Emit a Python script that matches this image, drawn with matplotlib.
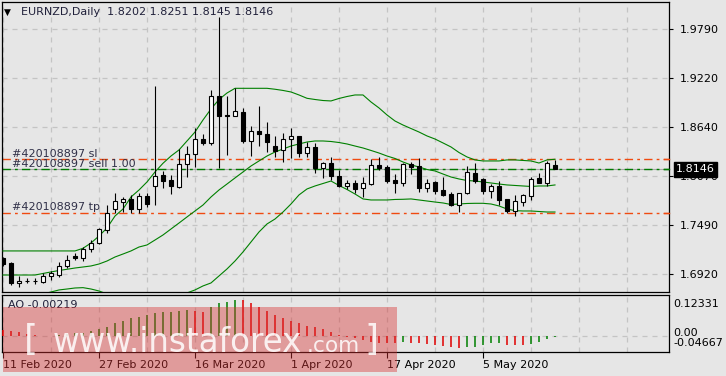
import matplotlib
matplotlib.use("Agg")
import matplotlib.pyplot as plt
import numpy as np
from matplotlib.patches import Rectangle
from matplotlib.transforms import blended_transform_factory, offset_copy

# EURNZD daily candles, 11 Feb 2020 .. 18 May 2020
opens = [1.7102, 1.7045, 1.6818, 1.6842, 1.6838, 1.6823, 1.6897, 1.6908, 1.7017, 1.7127,
         1.7111, 1.7209, 1.7287, 1.7436, 1.7678, 1.7767, 1.7795, 1.7678, 1.7834, 1.7954,
         1.8080, 1.8021, 1.7943, 1.8205, 1.8322, 1.8502, 1.8451, 1.9005, 1.8779, 1.8774,
         1.8821, 1.8482, 1.8595, 1.8560, 1.8420, 1.8373, 1.8498, 1.8537, 1.8341, 1.8404,
         1.8158, 1.8217, 1.8068, 1.7954, 1.7983, 1.7924, 1.7971, 1.8197, 1.8170, 1.8021,
         1.7983, 1.8209, 1.8185, 1.7931, 1.7994, 1.7904, 1.7857, 1.7725, 1.7865, 1.8100,
         1.8029, 1.7896, 1.7951, 1.7795, 1.7658, 1.7767, 1.7837, 1.8041, 1.7990, 1.8202]
highs = [1.7119, 1.7061, 1.6897, 1.6870, 1.6870, 1.6928, 1.6959, 1.7064, 1.7143, 1.7170,
         1.7240, 1.7318, 1.7455, 1.7728, 1.7865, 1.7826, 1.7846, 1.7865, 1.7865, 1.9122,
         1.8130, 1.8080, 1.8381, 1.8420, 1.8627, 1.8560, 1.9075, 1.9934, 1.9005, 1.9095,
         1.8861, 1.8654, 1.8888, 1.8704, 1.8537, 1.8568, 1.8627, 1.8540, 1.8470, 1.8458,
         1.8236, 1.8294, 1.8138, 1.8021, 1.8021, 1.8053, 1.8264, 1.8287, 1.8197, 1.8092,
         1.8224, 1.8236, 1.8275, 1.8029, 1.8013, 1.8053, 1.7884, 1.7872, 1.8185, 1.8217,
         1.8041, 1.7974, 1.8010, 1.7797, 1.7846, 1.7857, 1.8060, 1.8107, 1.8247, 1.8251]
lows = [1.7014, 1.6791, 1.6771, 1.6811, 1.6803, 1.6811, 1.6850, 1.6888, 1.6987, 1.7084,
        1.7072, 1.7181, 1.7272, 1.7397, 1.7638, 1.7650, 1.7638, 1.7631, 1.7708, 1.7728,
        1.7931, 1.7854, 1.7931, 1.8060, 1.8177, 1.8431, 1.8431, 1.8165, 1.8314, 1.8771,
        1.8451, 1.8306, 1.8420, 1.8353, 1.8294, 1.8236, 1.8275, 1.8287, 1.8287, 1.8100,
        1.8048, 1.8021, 1.7943, 1.7912, 1.7865, 1.7826, 1.7963, 1.8138, 1.7983, 1.7865,
        1.7951, 1.8092, 1.7884, 1.7884, 1.7857, 1.7834, 1.7717, 1.7650, 1.7857, 1.7983,
        1.7857, 1.7814, 1.7728, 1.7638, 1.7600, 1.7717, 1.7787, 1.7983, 1.7951, 1.8145]
closes = [1.7037, 1.6811, 1.6842, 1.6840, 1.6840, 1.6897, 1.6928, 1.7017, 1.7084, 1.7111,
          1.7213, 1.7287, 1.7444, 1.7631, 1.7775, 1.7795, 1.7678, 1.7834, 1.7737, 1.8072,
          1.8013, 1.7951, 1.8205, 1.8322, 1.8498, 1.8451, 1.9005, 1.8774, 1.8776, 1.8829,
          1.8482, 1.8595, 1.8557, 1.8463, 1.8364, 1.8498, 1.8537, 1.8341, 1.8404, 1.8158,
          1.8217, 1.8068, 1.7951, 1.7983, 1.7912, 1.7983, 1.8193, 1.8165, 1.8013, 1.7983,
          1.8205, 1.8177, 1.7931, 1.7983, 1.7896, 1.7846, 1.7725, 1.7865, 1.8111, 1.8010,
          1.7896, 1.7951, 1.7787, 1.7662, 1.7775, 1.7846, 1.8029, 1.7990, 1.8217, 1.8146]

# envelope / bands drawn on the chart
band_upper = [1.7190] * 10 + [
    1.7221, 1.7283, 1.7365, 1.7459, 1.7599, 1.7681, 1.7822, 1.7904, 1.7998, 1.8115,
    1.8217, 1.8302, 1.8373, 1.8478, 1.8583, 1.8724, 1.8853, 1.8964, 1.9040, 1.9095,
    1.9095, 1.9095, 1.9095, 1.9095, 1.9084, 1.9070, 1.9052, 1.9017, 1.8978, 1.8964,
    1.8952, 1.8947, 1.8976, 1.8999, 1.9017, 1.9017, 1.8935, 1.8865, 1.8783, 1.8712,
    1.8665, 1.8624, 1.8583, 1.8537, 1.8501, 1.8455, 1.8408, 1.8343, 1.8291, 1.8256,
    1.8244, 1.8244, 1.8244, 1.8256, 1.8256, 1.8250, 1.8244, 1.8220, 1.8256, 1.8264]
band_middle = [1.6908, 1.6908, 1.6908, 1.6908, 1.6908, 1.6926, 1.6944, 1.6961, 1.6975, 1.6990,
               1.7002, 1.7014, 1.7037, 1.7072, 1.7119, 1.7154, 1.7190, 1.7236, 1.7260, 1.7318,
               1.7377, 1.7447, 1.7517, 1.7588, 1.7658, 1.7728, 1.7822, 1.7904, 1.7974, 1.8045,
               1.8115, 1.8185, 1.8244, 1.8302, 1.8349, 1.8384, 1.8419, 1.8443, 1.8466, 1.8478,
               1.8478, 1.8472, 1.8460, 1.8443, 1.8419, 1.8396, 1.8367, 1.8337, 1.8302, 1.8273,
               1.8232, 1.8197, 1.8174, 1.8144, 1.8127, 1.8091, 1.8056, 1.8033, 1.8015, 1.8009,
               1.7998, 1.7986, 1.7974, 1.7963, 1.7957, 1.7951, 1.7945, 1.7951, 1.7951, 1.7963]
band_lower = [1.6627, 1.6627, 1.6627, 1.6639, 1.6662, 1.6686, 1.6709, 1.6733, 1.6744, 1.6756,
              1.6760, 1.6744, 1.6721, 1.6686, 1.6639, 1.6627, 1.6557, 1.6569, 1.6522, 1.6522,
              1.6533, 1.6592, 1.6662, 1.6698, 1.6733, 1.6780, 1.6815, 1.6897, 1.6979, 1.7072,
              1.7178, 1.7295, 1.7412, 1.7506, 1.7564, 1.7646, 1.7740, 1.7846, 1.7916, 1.7951,
              1.7980, 1.8009, 1.7957, 1.7910, 1.7857, 1.7799, 1.7787, 1.7787, 1.7787, 1.7793,
              1.7795, 1.7799, 1.7787, 1.7775, 1.7763, 1.7752, 1.7734, 1.7740, 1.7746, 1.7748,
              1.7748, 1.7740, 1.7717, 1.7681, 1.7662, 1.7658, 1.7658, 1.7652, 1.7646, 1.7646]

# Awesome Oscillator
ao = [0.019, 0.017, 0.012, 0.007, 0.003, 0.001, 0.002, 0.004, 0.006, 0.009,
      0.011, 0.017, 0.022, 0.029, 0.039, 0.046, 0.054, 0.059, 0.064, 0.069,
      0.072, 0.074, 0.077, 0.079, 0.077, 0.074, 0.089, 0.1005, 0.1035, 0.1085,
      0.108, 0.0987, 0.0868, 0.0766, 0.0638, 0.054, 0.047, 0.039, 0.031, 0.027,
      0.021, 0.013, 0.004, -0.001, -0.005, -0.010, -0.016, -0.019, -0.0195, -0.020,
      -0.018, -0.019, -0.021, -0.023, -0.026, -0.029, -0.031, -0.0355, -0.0325, -0.031,
      -0.026, -0.021, -0.019, -0.0256, -0.026, -0.0265, -0.023, -0.016, -0.008, -0.00219]

date_pos = [0, 12, 24, 36, 48, 60]
date_labels = ["11 Feb 2020", "27 Feb 2020", "16 Mar 2020", "1 Apr 2020", "17 Apr 2020", "5 May 2020"]
price_ticks = [1.9790, 1.9220, 1.8640, 1.8070, 1.7490, 1.6920]
ao_max, ao_min = 0.12331, -0.04667

order_sl = 1.8264
order_open = 1.8146
order_tp = 1.7638
order_id = "#420108897"

bg = "#e6e6e6"
grid_c = "#c4c4c4"
txt_c = "#20203a"
plt.rcParams["font.family"] = ["DejaVu Sans"]
plt.rcParams["font.size"] = 8

W, H = 726, 376
fig = plt.figure(figsize=(W / 100, H / 100), dpi=100, facecolor=bg)
ax = fig.add_axes([2 / W, 1 - 292 / H, 667 / W, 290 / H], facecolor=bg)
ax2 = fig.add_axes([2 / W, 1 - 352 / H, 667 / W, 57 / H], facecolor=bg)

x = np.arange(len(closes))
o = np.array(opens)
c = np.array(closes)
xlim = (-0.125, 83.25)

# --- main panel ---
for a in (ax, ax2):
    a.set_xlim(*xlim)
    a.set_xticks(date_pos)
    a.set_xticks(np.arange(0, 84, 6), minor=True)
    a.grid(True, which="both", axis="x", color=grid_c, lw=0.9, ls=(0, (4, 4)))
    for s in a.spines.values():
        s.set_color("black")
        s.set_linewidth(0.9)
    a.set_axisbelow(True)

ax.set_ylim(1.6709, 2.0106)
ax.set_yticks(price_ticks)
ax.set_yticklabels([f"{p:.4f}" for p in price_ticks])
ax.yaxis.tick_right()
ax.tick_params(axis="y", length=3, width=0.8, pad=5, labelsize=8, colors="black")
ax.tick_params(axis="x", which="both", length=0, labelbottom=False)
ax.grid(True, axis="y", color=grid_c, lw=0.9, ls=(0, (4, 4)))

# bid line and order lines
ax.axhline(order_open, color="#a8a8a8", lw=0.8, zorder=1)
ax.axhline(order_sl, color="#f04a10", lw=1.0, dashes=(6, 3, 2, 3), zorder=2)
ax.axhline(order_tp, color="#f04a10", lw=1.0, dashes=(6, 3, 2, 3), zorder=2)
ax.axhline(order_open, color="#007a00", lw=1.0, dashes=(6, 3, 2, 3), zorder=2)

lbl_tr = offset_copy(blended_transform_factory(ax.transAxes, ax.transData), fig=fig, y=1.6, units="points")
for val, name in [(order_sl, "sl"), (order_open, "sell 1.00"), (order_tp, "tp")]:
    ax.text(0.0145, val, f"{order_id} {name}", transform=lbl_tr, va="baseline", ha="left",
            color="#303048", fontsize=8, zorder=6)

# bands
for band in (band_upper, band_middle, band_lower):
    ax.plot(x, band, color="#008000", lw=0.8, zorder=3)

# candles
ax.vlines(x, lows, highs, color="black", lw=0.8, zorder=4)
body_lo = np.minimum(o, c)
body_h = np.maximum(np.abs(c - o), 0.00005)
body_fc = ["white" if cc >= oo else "black" for oo, cc in zip(o, c)]
ax.bar(x, body_h, bottom=body_lo, width=0.6, color=body_fc, edgecolor="black", linewidth=0.8, zorder=5)

# current price box
bx_tr = blended_transform_factory(ax.transAxes, ax.transData)
ax.text(1.0105, closes[-1], f"{closes[-1]:.4f}", transform=bx_tr, va="center", ha="left",
        color="white", fontsize=8, zorder=20, clip_on=False,
        bbox=dict(boxstyle="square,pad=0.22", fc="black", ec="black"))
for val, col in [(order_sl, "#f04a10"), (order_open, "#007a00"), (order_tp, "#f04a10")]:
    ax.plot([0.993, 1.0], [val, val], transform=bx_tr, color=col, lw=1, clip_on=False, zorder=6)

# header
fig.text(4 / W, 1 - 12 / H, "\u25bc", fontsize=6.5, va="center", ha="left", color="black")
fig.text(21 / W, 1 - 12 / H, "EURNZD,Daily  1.8202 1.8251 1.8145 1.8146", fontsize=8,
         va="center", ha="left", color=txt_c)

# --- AO panel ---
ax2.set_ylim(ao_min, ao_max)
ao_arr = np.array(ao)
ao_col = ["red"] + ["#008000" if ao_arr[i] > ao_arr[i - 1] else "#e00000" for i in range(1, len(ao_arr))]
ax2.vlines(x, 0, ao_arr, colors=ao_col, lw=1.1, zorder=3)
ax2.axhline(0, color=grid_c, lw=0.9, ls=(0, (4, 4)), zorder=1)
ax2.set_yticks([])
ax2.set_xticklabels(date_labels)
ax2.tick_params(axis="x", which="major", length=4, width=0.8, pad=2, labelsize=8, colors="black")
ax2.tick_params(axis="x", which="minor", length=0)
for lab in ax2.get_xticklabels():
    lab.set_horizontalalignment("left")
ax2.text(0.009, 0.82, f"AO {ao[-1]:.5f}", transform=ax2.transAxes, va="center", ha="left",
         fontsize=8, color=txt_c)
for frac, s in [(0.842, f"{ao_max:.5f}"), (0.33, "0.00"), (0.15, f"{ao_min:.5f}")]:
    ax2.text(1.006, frac, s, transform=ax2.transAxes, va="center", ha="left", fontsize=8,
             color="black", clip_on=False)

# --- watermark ---
fig.add_artist(Rectangle((3 / W, 1 - 372 / H), 394 / W, 65 / H, transform=fig.transFigure,
                         fc=(0.85, 0.2, 0.2), ec="none", alpha=0.42, zorder=30))
wm = dict(color="white", alpha=0.85, va="baseline", ha="left", zorder=31)
fig.text(24 / W, 1 - 350 / H, "[", fontsize=26, **wm)
fig.text(53 / W, 1 - 352 / H, "www.instaforex", fontsize=23.5, **wm)
fig.text(307 / W, 1 - 352 / H, ".com", fontsize=15.6, **wm)
fig.text(364 / W, 1 - 350 / H, "]", fontsize=26, **wm)

fig.savefig("out.png", dpi=100, facecolor=bg)
